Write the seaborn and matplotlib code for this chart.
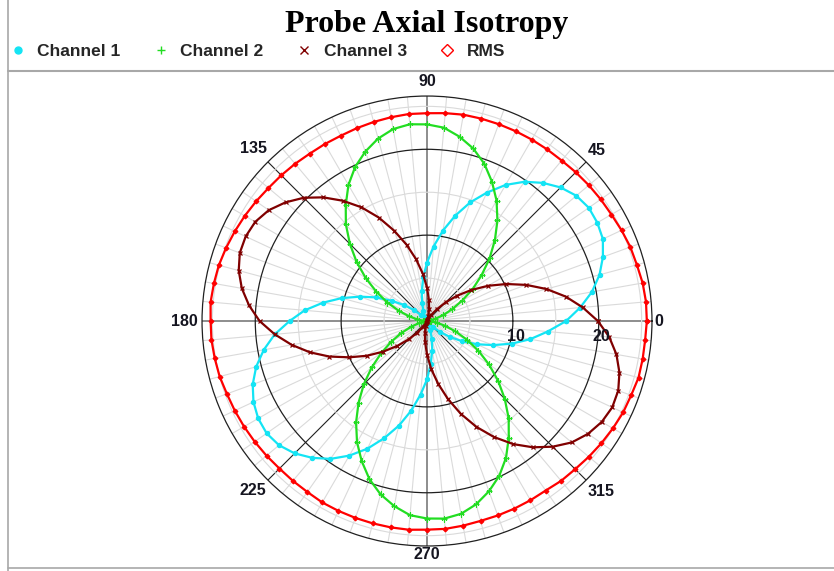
import numpy as np
import matplotlib
matplotlib.use("Agg")
import matplotlib.pyplot as plt
from matplotlib.lines import Line2D
import seaborn as sns

# angles in degrees, one reading every 5 degrees
angles_deg = list(range(0, 360, 5))

channel_1 = [16.2, 17.9, 19.5, 20.8, 21.8, 22.6, 22.9, 23.0, 22.7, 22.0, 21.0, 19.8,
             18.3, 16.5, 14.7, 12.7, 10.7, 8.7, 6.8, 5.1, 3.5, 2.2, 1.2, 0.5,
             0.1, 0.0, 0.3, 1.0, 2.0, 3.2, 4.7, 6.5, 8.3, 10.3, 12.3, 14.3,
             16.0, 17.8, 19.3, 20.6, 21.6, 22.3, 22.7, 22.8, 22.5, 21.8, 20.8, 19.6,
             18.1, 16.4, 14.5, 12.6, 10.6, 8.6, 6.8, 5.0, 3.5, 2.2, 1.1, 0.4,
             0.1, 0.0, 0.3, 1.0, 2.0, 3.2, 4.7, 6.4, 8.2, 10.2, 12.2, 14.1]

channel_2 = [0.1, 0.0, 0.3, 1.0, 2.0, 3.2, 4.7, 6.5, 8.3, 10.3, 12.3, 14.3,
             16.2, 17.9, 19.5, 20.8, 21.8, 22.6, 22.9, 23.0, 22.7, 22.0, 21.0, 19.8,
             18.3, 16.5, 14.7, 12.7, 10.7, 8.7, 6.8, 5.1, 3.5, 2.2, 1.2, 0.5,
             0.1, 0.0, 0.3, 1.0, 2.0, 3.3, 4.8, 6.5, 8.4, 10.4, 12.4, 14.4,
             16.3, 18.0, 19.6, 20.9, 21.9, 22.7, 23.0, 23.1, 22.8, 22.1, 21.1, 19.9,
             18.4, 16.6, 14.8, 12.8, 10.8, 8.8, 6.9, 5.1, 3.5, 2.2, 1.2, 0.5]

channel_3 = [19.9, 18.2, 16.4, 14.4, 12.3, 10.2, 8.2, 6.3, 4.6, 3.1, 1.8, 0.9,
             0.3, 0.0, 0.1, 0.6, 1.4, 2.5, 3.9, 5.5, 7.3, 9.2, 11.2, 13.3,
             15.3, 17.1, 18.8, 20.3, 21.5, 22.5, 23.1, 23.3, 23.2, 22.7, 21.9, 20.8,
             19.5, 17.8, 16.0, 14.1, 12.1, 10.0, 8.1, 6.2, 4.5, 3.0, 1.8, 0.9,
             0.3, 0.0, 0.1, 0.6, 1.4, 2.5, 3.9, 5.6, 7.4, 9.4, 11.5, 13.6,
             15.6, 17.5, 19.2, 20.7, 22.0, 22.9, 23.5, 23.8, 23.7, 23.2, 22.4, 21.3]

rms = [25.6, 25.6, 25.5, 25.3, 25.2, 25.0, 24.8, 24.7, 24.6, 24.5, 24.4, 24.4,
       24.4, 24.4, 24.4, 24.4, 24.4, 24.3, 24.2, 24.2, 24.1, 24.0, 23.9, 23.8,
       23.8, 23.8, 23.9, 24.0, 24.1, 24.3, 24.5, 24.7, 24.9, 25.1, 25.2, 25.3,
       25.2, 25.2, 25.1, 25.0, 24.8, 24.7, 24.6, 24.5, 24.4, 24.3, 24.3, 24.3,
       24.4, 24.4, 24.4, 24.4, 24.4, 24.4, 24.3, 24.3, 24.2, 24.1, 24.1, 24.1,
       24.1, 24.1, 24.3, 24.4, 24.6, 24.8, 25.0, 25.2, 25.3, 25.5, 25.5, 25.5]

series_names = ["Channel 1", "Channel 2", "Channel 3", "RMS"]
series_values = [channel_1, channel_2, channel_3, rms]
series_colors = ["#14e4f4", "#22dd22", "#800000", "#ff0000"]
series_markers = ["o", "+", "x", "D"]

angle_ticks = [0, 45, 90, 135, 180, 225, 270, 315]
radial_ticks = [10, 20]
r_max = 26.2

sns.set_theme(style="white")
plt.rcParams["font.family"] = ["Liberation Sans", "DejaVu Sans"]

fig = plt.figure(figsize=(8.34, 5.71), dpi=100)
ax = fig.add_axes([0.2422, 0.0438, 0.5396, 0.788], projection="polar")

theta = np.deg2rad(angles_deg + [360])
for vals, name, color, marker in zip(series_values, series_names, series_colors, series_markers):
    r = vals + vals[:1]
    ms = {"o": 3.0, "+": 4.5, "x": 3.2, "D": 2.4}[marker]
    sns.lineplot(x=theta, y=r, ax=ax, color=color, lw=1.6, marker=marker,
                 markersize=ms, markeredgecolor=color, markeredgewidth=0.9,
                 sort=False, estimator=None, legend=False, zorder=3)

# grid: fine 5 degree spokes, dark every 45
ax.set_thetagrids(np.arange(0, 360, 5), labels=[])
ax.set_rgrids([5, 10, 15, 20, 25], labels=[])
ax.set_ylim(0, r_max)
ax.set_xlabel("")
ax.set_ylabel("")
for i, gl in enumerate(ax.xaxis.get_gridlines()):
    if i % 18 == 0:
        gl.set_color("#7a7a7a"); gl.set_linewidth(1.2)
    elif i % 9 == 0:
        gl.set_color("#202020"); gl.set_linewidth(0.8)
    else:
        gl.set_color("#dadada"); gl.set_linewidth(0.8)
    gl.set_linestyle("-")
for i, gl in enumerate(ax.yaxis.get_gridlines()):
    if i in (1, 3):
        gl.set_color("#202020"); gl.set_linewidth(0.9)
    else:
        gl.set_color("#dadada"); gl.set_linewidth(0.8)
    gl.set_linestyle("-")
ax.spines["polar"].set_color("#202020")
ax.spines["polar"].set_linewidth(0.9)

# angle labels around the rim
label_pos = {0: ("left", "center", (2, 0)), 45: ("left", "bottom", (1, 3)),
             90: ("center", "bottom", (0, 5)), 135: ("right", "bottom", (-1, 4)),
             180: ("right", "center", (-3, 0)), 225: ("right", "top", (-1, -2)),
             270: ("center", "top", (0, -1)), 315: ("left", "top", (1, -3))}
for a in angle_ticks:
    ha, va, off = label_pos[a]
    ax.annotate(str(a), xy=(np.deg2rad(a), r_max), xytext=off, textcoords="offset points",
                ha=ha, va=va, fontsize=11.5, fontweight="bold", color="#151520",
                annotation_clip=False)
for rv in radial_ticks:
    ax.annotate(str(rv), xy=(0, rv), xytext=(2, -6), textcoords="offset points",
                ha="center", va="top", fontsize=11.5, fontweight="bold", color="#151520")

fig.text(0.512, 1 - 32 / 571, "Probe Axial Isotropy", ha="center", va="baseline",
         family=["Liberation Serif", "DejaVu Serif"], fontweight="bold", fontsize=23,
         color="black")

handles = []
for name, color, marker in zip(series_names, series_colors, series_markers):
    handles.append(Line2D([], [], linestyle="none", marker=marker, color=color,
                          markersize=6 if marker != "o" else 5,
                          markerfacecolor=color if marker == "o" else "none",
                          markeredgewidth=1))
fig.legend(handles, series_names, loc="center left", bbox_to_anchor=(0.003, 1 - 51 / 571),
           ncol=4, frameon=False, handlelength=1.0, handletextpad=0.6, columnspacing=1.85,
           borderaxespad=0, prop={"weight": "bold", "size": 12.5})

# panel frame
fc = "#a8a8a8"
fig.add_artist(Line2D([8 / 834, 8 / 834], [0, 1], color=fc, lw=1.2, transform=fig.transFigure))
fig.add_artist(Line2D([8 / 834, 1], [1 - 71 / 571] * 2, color=fc, lw=1.5, transform=fig.transFigure))
fig.add_artist(Line2D([8 / 834, 1], [3 / 571] * 2, color=fc, lw=1.2, transform=fig.transFigure))

fig.savefig("out.png", dpi=100)
